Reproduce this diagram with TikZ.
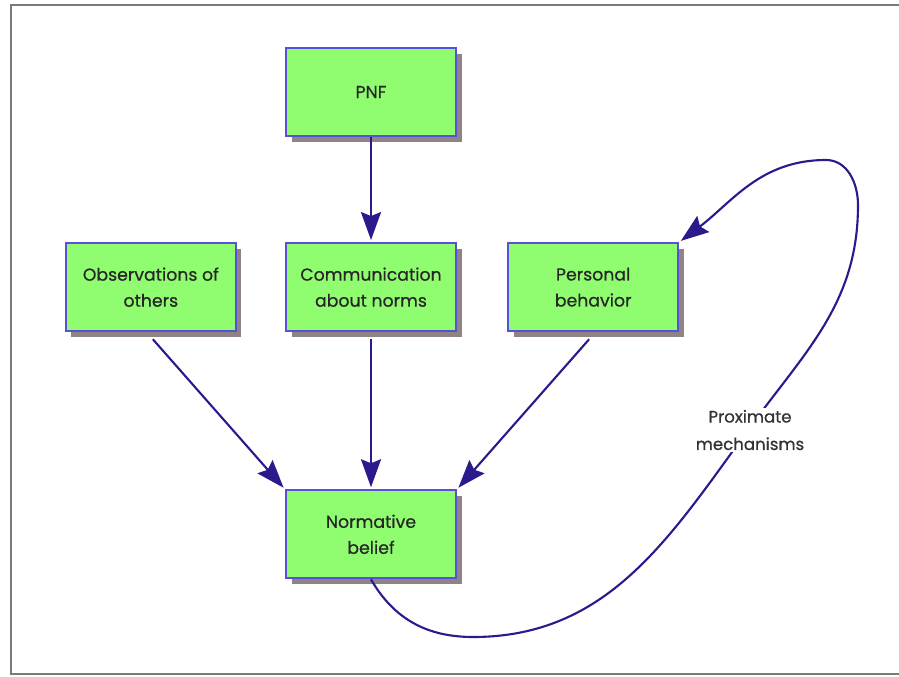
\documentclass[tikz,border=0pt]{standalone}
\usepackage{fontspec}
\setmainfont{Poppins}
\newfontfamily\boxfont{Poppins}[FakeBold=0.6]
\usepackage{tikz}
\usetikzlibrary{arrows.meta,positioning,shadows}
\definecolor{boxfill}{HTML}{90FC70}
\definecolor{boxline}{HTML}{5A4FDC}
\definecolor{shadowgray}{HTML}{8E8484}
\definecolor{linkblue}{HTML}{2B1A8C}
\definecolor{framegray}{HTML}{7A7A7A}
\tikzset{
  box/.style   ={draw=boxline,line width=1.5pt,fill=boxfill,align=center,
                 minimum width=4.25cm,minimum height=2.2cm,inner sep=2pt,
                 font=\boxfont\fontsize{12.3}{18.5}\selectfont,text=black!85,
                 drop shadow={shadow xshift=1.4mm,shadow yshift=-1.4mm,
                 fill=shadowgray,opacity=1}},
  flow/.style  ={-{Stealth[length=7mm,width=5mm,inset=1mm]},line width=1.5pt,
                 draw=linkblue,shorten >=0.5mm},
  tag/.style   ={fill=white,align=center,inner sep=1pt,
                 font=\boxfont\fontsize{11.8}{19.5}\selectfont,text=black!80}
}
\begin{document}
\begin{tikzpicture}[x=0.025cm,y=0.025cm,node distance=6mm]
  \useasboundingbox (0,0) rectangle (899,-676);
  \fill[white] (0,0) rectangle (899,-676);
  \draw[framegray,line width=1.6pt] (905,-5) -- (11,-5) -- (11,-674) -- (905,-674);
  \node[box] (pnf) at (371,-92) {PNF};
  \node[box,below=2.625cm of pnf] (comm) {Communication\\about norms};
  \node[box,left=1.2cm of comm] (obs) {Observations of\\others};
  \node[box,right=1.25cm of comm] (pers) {Personal\\behavior};
  \node[box,below=3.925cm of comm] (norm) {Normative\\belief};
  \draw[flow] (pnf) -- (comm);
  \draw[flow] (obs.south) ++(2,-7) -- (norm.north west);
  \draw[flow] (comm.south) ++(0,-7) -- (norm.north);
  \draw[flow] (pers.south) ++(-4,-7) -- (norm.north east);
  \draw[flow] (norm.south) to[out=-60,in=180] (473,-637)
      to[out=0,in=234] (748,-430)
      to[out=54,in=-90] (858,-205)
      to[out=90,in=0] (826,-160)
      to[out=180,in=37] (pers.north east);
  \node[tag] (prox) at (750,-430) {Proximate\\mechanisms};
\end{tikzpicture}
\end{document}
